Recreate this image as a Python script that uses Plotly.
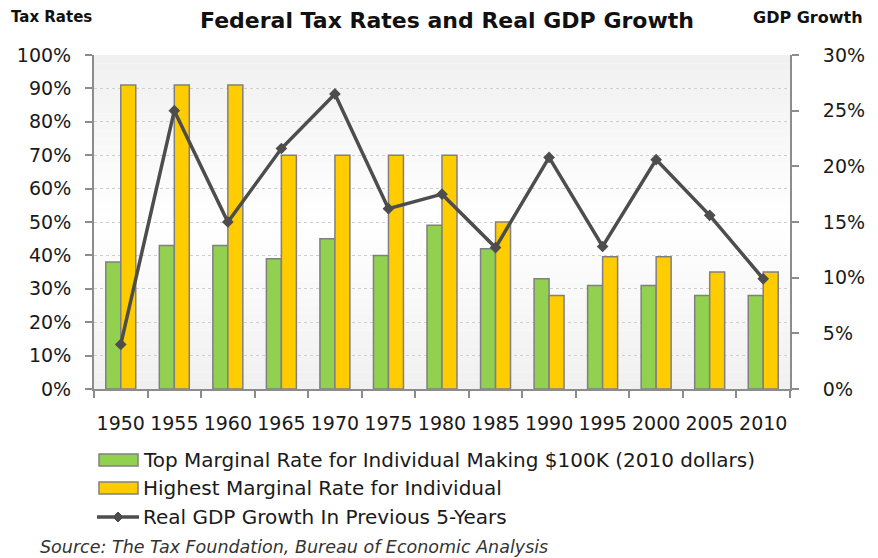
import plotly.graph_objects as go

years = ["1950", "1955", "1960", "1965", "1970", "1975", "1980",
         "1985", "1990", "1995", "2000", "2005", "2010"]
top_100k = [0.38, 0.43, 0.43, 0.39, 0.45, 0.40, 0.49, 0.42, 0.33, 0.31, 0.31, 0.28, 0.28]
highest = [0.91, 0.91, 0.91, 0.70, 0.70, 0.70, 0.70, 0.50, 0.28, 0.396, 0.396, 0.35, 0.35]
gdp_growth = [0.04, 0.25, 0.15, 0.216, 0.265, 0.162, 0.175, 0.127, 0.208, 0.128, 0.206, 0.156, 0.099]

left_ticks = [i / 10 for i in range(11)]
right_ticks = [i / 20 for i in range(7)]

names = ["Top Marginal Rate for Individual Making $100K (2010 dollars)",
         "Highest Marginal Rate for Individual",
         "Real GDP Growth In Previous 5-Years"]

FONT = "DejaVu Sans"
AX = "#8c8c8c"
GREEN = "#92d050"
YELLOW = "#ffcc00"
OUTLINE = "#808080"
LINE = "#4d4d4d"

# page has an 8px body margin; figure is drawn 8px in from the page corner
OFF = 8
FW, FH = 878 - OFF, 558 - OFF
# plot area in page pixels
L, R, T, B = 94, 790, 55, 389
W, H = R - L, B - T


def px(x):
    return (x - L) / W


def py(y):
    return (B - y) / H


fig = go.Figure()
fig.add_trace(go.Bar(
    x=years, y=top_100k, name=names[0],
    marker=dict(color=GREEN, line=dict(color=OUTLINE, width=1.5)),
))
fig.add_trace(go.Bar(
    x=years, y=highest, name=names[1],
    marker=dict(color=YELLOW, line=dict(color=OUTLINE, width=1.5)),
))
fig.add_trace(go.Scatter(
    x=years, y=gdp_growth, yaxis="y2", mode="lines+markers", name=names[2],
    line=dict(color=LINE, width=3.5),
    marker=dict(symbol="diamond", size=9, color=LINE),
))

# plot-area gradient background
shapes = []
n = 40
for i in range(n):
    t = (i + 0.5) / n  # 0 bottom -> 1 top
    g = 255 - abs(t - 0.5) / 0.5 * 15
    g = int(round(g))
    shapes.append(dict(type="rect", xref="x domain", yref="y domain",
                       x0=0, x1=1, y0=i / n, y1=(i + 1) / n,
                       fillcolor=f"rgb({g},{g},{g})", line=dict(width=0), layer="below"))

# manual legend symbols
shapes.append(dict(type="rect", xref="paper", yref="paper",
                   x0=px(99), x1=px(138), y0=py(466), y1=py(454),
                   fillcolor=GREEN, line=dict(color=OUTLINE, width=1.5)))
shapes.append(dict(type="rect", xref="paper", yref="paper",
                   x0=px(99), x1=px(138), y0=py(494), y1=py(482),
                   fillcolor=YELLOW, line=dict(color=OUTLINE, width=1.5)))
shapes.append(dict(type="line", xref="paper", yref="paper",
                   x0=px(97), x1=px(139), y0=py(517), y1=py(517),
                   line=dict(color=LINE, width=3.5)))
dx, dy = 5, 5
shapes.append(dict(type="path", xref="paper", yref="paper",
                   path=f"M {px(118)},{py(517 - dy)} L {px(118 + dx)},{py(517)} "
                        f"L {px(118)},{py(517 + dy)} L {px(118 - dx)},{py(517)} Z",
                   fillcolor=LINE, line=dict(color=LINE, width=1)))

annotations = [
    dict(text="Federal Tax Rates and Real GDP Growth", xref="paper", yref="paper",
         x=px(447), y=py(21), xanchor="center", yanchor="middle", showarrow=False,
         font=dict(size=22, family=FONT, color="#111111", weight="bold")),
    dict(text="Tax Rates", xref="paper", yref="paper", x=px(9), y=py(17),
         xanchor="left", yanchor="middle", showarrow=False,
         font=dict(size=15, family=FONT, color="#111111", weight="bold")),
    dict(text="GDP Growth", xref="paper", yref="paper", x=px(751), y=py(17),
         xanchor="left", yanchor="middle", showarrow=False,
         font=dict(size=16, family=FONT, color="#111111", weight="bold")),
    dict(text="<i>Source: The Tax Foundation, Bureau of Economic Analysis</i>",
         xref="paper", yref="paper", x=px(38), y=py(547),
         xanchor="left", yanchor="middle", showarrow=False,
         font=dict(size=17.5, family=FONT, color="#333333")),
]
for nm, yy in zip(names, [460, 488, 517]):
    annotations.append(dict(text=nm, xref="paper", yref="paper", x=px(141), y=py(yy),
                            xanchor="left", yanchor="middle", showarrow=False,
                            font=dict(size=20, family=FONT, color="#1a1a1a")))

fig.update_layout(
    width=FW, height=FH,
    margin=dict(l=L - OFF, r=FW - (R - OFF), t=T - OFF, b=FH - (B - OFF), autoexpand=False),
    paper_bgcolor="white", plot_bgcolor="rgba(0,0,0,0)",
    font=dict(family=FONT, color="#1a1a1a", size=19),
    barmode="group", bargap=0.44, bargroupgap=0,
    shapes=shapes,
    annotations=annotations,
    showlegend=False,
    xaxis=dict(type="category", range=[-0.5, len(years) - 0.5],
               showline=True, linecolor=AX, linewidth=2,
               ticks="outside", tickson="boundaries", ticklen=7, tickcolor=AX, tickwidth=2,
               ticklabelstandoff=16, tickangle=0, tickfont=dict(size=19), showgrid=False,
               automargin=False),
    yaxis=dict(range=[0, 1], tickvals=left_ticks, tickformat=".0%",
               showline=True, linecolor=AX, linewidth=2, ticks="outside", ticklen=7,
               tickcolor=AX, tickwidth=2, showgrid=True, gridcolor="#cfcfcf",
               griddash="dot", gridwidth=1, zeroline=False, tickfont=dict(size=19),
               ticklabelstandoff=10, automargin=False),
    yaxis2=dict(range=[0, 0.30], tickvals=right_ticks, tickformat=".0%",
                overlaying="y", side="right", showline=True, linecolor=AX, linewidth=2,
                ticks="outside", ticklen=7, tickcolor=AX, tickwidth=2, showgrid=False,
                zeroline=False, tickfont=dict(size=19), ticklabelstandoff=20,
                automargin=False),
)

fig.write_html("out.html")
